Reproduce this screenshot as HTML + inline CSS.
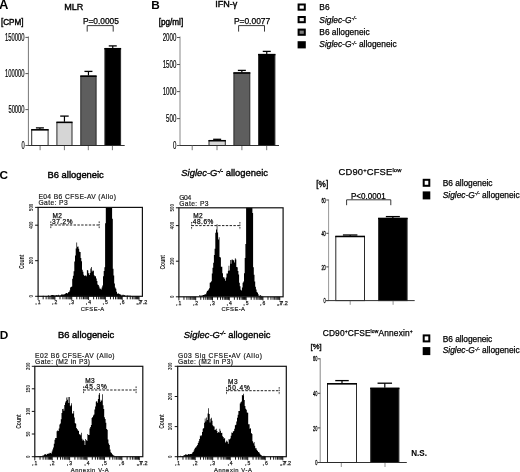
<!DOCTYPE html>
<html><head><meta charset="utf-8"><title>Figure</title>
<style>html,body{margin:0;padding:0;background:#fff}svg{display:block}text{font-family:'Liberation Sans', Arial, Helvetica, sans-serif}</style>
</head><body>
<svg width="520" height="472" viewBox="0 0 520 472">
<rect width="520" height="472" fill="#fff"/>
<text x="-1.1" y="8.6" font-size="13" text-anchor="start" font-weight="bold" >A</text>
<text x="64.2" y="9.5" font-size="9" text-anchor="start" textLength="19.2" lengthAdjust="spacingAndGlyphs" stroke="#000" stroke-width="0.35" >MLR</text>
<text x="1" y="25.2" font-size="8.4" text-anchor="start" textLength="22.5" lengthAdjust="spacingAndGlyphs" stroke="#000" stroke-width="0.4" >[CPM]</text>
<text x="82.9" y="23.8" font-size="8.4" text-anchor="start" textLength="36" lengthAdjust="spacingAndGlyphs" stroke="#000" stroke-width="0.25" >P=0.0005</text>
<path d="M87.2 31.6V25.6H113.2V31.6" fill="none" stroke="#222" stroke-width="0.9"/>
<line x1="28.4" y1="36.5" x2="28.4" y2="146" stroke="#777" stroke-width="1" />
<line x1="26" y1="145.5" x2="124.7" y2="145.5" stroke="#333" stroke-width="1" />
<line x1="25.4" y1="37.4" x2="28.4" y2="37.4" stroke="#555" stroke-width="1" />
<text x="24.6" y="40.9" font-size="10" text-anchor="end" textLength="19.5" lengthAdjust="spacingAndGlyphs" stroke="#000" stroke-width="0.2" >150000</text>
<line x1="25.4" y1="73.60000000000001" x2="28.4" y2="73.60000000000001" stroke="#555" stroke-width="1" />
<text x="24.6" y="77.10000000000001" font-size="10" text-anchor="end" textLength="19.5" lengthAdjust="spacingAndGlyphs" stroke="#000" stroke-width="0.2" >100000</text>
<line x1="25.4" y1="109.60000000000001" x2="28.4" y2="109.60000000000001" stroke="#555" stroke-width="1" />
<text x="24.6" y="113.10000000000001" font-size="10" text-anchor="end" textLength="16.2" lengthAdjust="spacingAndGlyphs" stroke="#000" stroke-width="0.2" >50000</text>
<line x1="25.4" y1="145.5" x2="28.4" y2="145.5" stroke="#555" stroke-width="1" />
<text x="24.6" y="149.0" font-size="10" text-anchor="end" textLength="3.2" lengthAdjust="spacingAndGlyphs" stroke="#000" stroke-width="0.2" >0</text>
<line x1="40.1" y1="145.5" x2="40.1" y2="150.2" stroke="#777" stroke-width="1" />
<line x1="64.4" y1="145.5" x2="64.4" y2="150.2" stroke="#777" stroke-width="1" />
<line x1="88.3" y1="145.5" x2="88.3" y2="150.2" stroke="#777" stroke-width="1" />
<line x1="112.4" y1="145.5" x2="112.4" y2="150.2" stroke="#777" stroke-width="1" />
<line x1="39.9" y1="129.2" x2="39.9" y2="127.9" stroke="#000" stroke-width="1.2" />
<line x1="35.9" y1="127.9" x2="43.9" y2="127.9" stroke="#000" stroke-width="1.3" />
<rect x="31.7" y="129.7" width="16.400000000000002" height="15.800000000000011" fill="#fff" stroke="#2a2a2a" stroke-width="1"/>
<line x1="31.2" y1="129.79999999999998" x2="48.6" y2="129.79999999999998" stroke="#000" stroke-width="1.5" />
<line x1="64.45" y1="121.8" x2="64.45" y2="116.1" stroke="#000" stroke-width="1.2" />
<line x1="60.2" y1="116.1" x2="68.7" y2="116.1" stroke="#000" stroke-width="1.3" />
<rect x="56.9" y="122.3" width="15.100000000000001" height="23.200000000000003" fill="#d6d6d6" stroke="#2a2a2a" stroke-width="1"/>
<line x1="56.4" y1="122.39999999999999" x2="72.5" y2="122.39999999999999" stroke="#000" stroke-width="1.5" />
<line x1="88.44999999999999" y1="75.6" x2="88.44999999999999" y2="71.4" stroke="#000" stroke-width="1.2" />
<line x1="84.44999999999999" y1="71.4" x2="92.44999999999999" y2="71.4" stroke="#000" stroke-width="1.3" />
<rect x="80.8" y="76.1" width="15.299999999999997" height="69.4" fill="#5e5e5e" stroke="#2a2a2a" stroke-width="1"/>
<line x1="80.3" y1="76.19999999999999" x2="96.6" y2="76.19999999999999" stroke="#000" stroke-width="1.5" />
<line x1="112.75" y1="48.1" x2="112.75" y2="45.9" stroke="#000" stroke-width="1.2" />
<line x1="108.75" y1="45.9" x2="116.75" y2="45.9" stroke="#000" stroke-width="1.3" />
<rect x="104.9" y="48.6" width="15.699999999999989" height="96.9" fill="#000" stroke="#2a2a2a" stroke-width="1"/>
<line x1="104.4" y1="48.7" x2="121.1" y2="48.7" stroke="#000" stroke-width="1.5" />
<text x="151.3" y="8.9" font-size="11.8" text-anchor="start" font-weight="bold" >B</text>
<text x="215.2" y="6.7" font-size="9" text-anchor="start" textLength="22.1" lengthAdjust="spacingAndGlyphs" stroke="#000" stroke-width="0.4" >IFN-γ</text>
<text x="158.7" y="25" font-size="8.4" text-anchor="start" textLength="24.5" lengthAdjust="spacingAndGlyphs" stroke="#000" stroke-width="0.4" >[pg/ml]</text>
<text x="233.9" y="23.8" font-size="8.4" text-anchor="start" textLength="36.3" lengthAdjust="spacingAndGlyphs" stroke="#000" stroke-width="0.25" >P=0.0077</text>
<path d="M238.6 31.6V25.6H264.5V31.6" fill="none" stroke="#222" stroke-width="0.9"/>
<line x1="180" y1="36.5" x2="180" y2="146" stroke="#888" stroke-width="1" />
<line x1="177.5" y1="145.5" x2="279" y2="145.5" stroke="#333" stroke-width="1" />
<line x1="177" y1="37.5" x2="180" y2="37.5" stroke="#555" stroke-width="1" />
<text x="176.3" y="41.0" font-size="10" text-anchor="end" textLength="13.6" lengthAdjust="spacingAndGlyphs" stroke="#000" stroke-width="0.2" >2000</text>
<line x1="177" y1="64.5" x2="180" y2="64.5" stroke="#555" stroke-width="1" />
<text x="176.3" y="68.0" font-size="10" text-anchor="end" textLength="13.6" lengthAdjust="spacingAndGlyphs" stroke="#000" stroke-width="0.2" >1500</text>
<line x1="177" y1="91.60000000000001" x2="180" y2="91.60000000000001" stroke="#555" stroke-width="1" />
<text x="176.3" y="95.10000000000001" font-size="10" text-anchor="end" textLength="13.6" lengthAdjust="spacingAndGlyphs" stroke="#000" stroke-width="0.2" >1000</text>
<line x1="177" y1="118.60000000000001" x2="180" y2="118.60000000000001" stroke="#555" stroke-width="1" />
<text x="176.3" y="122.10000000000001" font-size="10" text-anchor="end" textLength="10.2" lengthAdjust="spacingAndGlyphs" stroke="#000" stroke-width="0.2" >500</text>
<line x1="177" y1="145.5" x2="180" y2="145.5" stroke="#555" stroke-width="1" />
<text x="176.3" y="149.0" font-size="10" text-anchor="end" textLength="3.4" lengthAdjust="spacingAndGlyphs" stroke="#000" stroke-width="0.2" >0</text>
<line x1="192.2" y1="145.5" x2="192.2" y2="150.2" stroke="#777" stroke-width="1" />
<line x1="217" y1="145.5" x2="217" y2="150.2" stroke="#777" stroke-width="1" />
<line x1="241.9" y1="145.5" x2="241.9" y2="150.2" stroke="#777" stroke-width="1" />
<line x1="266.7" y1="145.5" x2="266.7" y2="150.2" stroke="#777" stroke-width="1" />
<line x1="217.15" y1="140.1" x2="217.15" y2="139.3" stroke="#000" stroke-width="1.2" />
<line x1="213.15" y1="139.3" x2="221.15" y2="139.3" stroke="#000" stroke-width="1.3" />
<rect x="209.0" y="140.6" width="16.30000000000001" height="4.900000000000006" fill="#d6d6d6" stroke="#2a2a2a" stroke-width="1"/>
<line x1="208.5" y1="140.7" x2="225.8" y2="140.7" stroke="#000" stroke-width="1.5" />
<line x1="241.85000000000002" y1="72.4" x2="241.85000000000002" y2="70.4" stroke="#000" stroke-width="1.2" />
<line x1="237.85000000000002" y1="70.4" x2="245.85000000000002" y2="70.4" stroke="#000" stroke-width="1.3" />
<rect x="233.9" y="72.9" width="15.900000000000006" height="72.6" fill="#5e5e5e" stroke="#2a2a2a" stroke-width="1"/>
<line x1="233.4" y1="73.0" x2="250.3" y2="73.0" stroke="#000" stroke-width="1.5" />
<line x1="266.75" y1="54" x2="266.75" y2="51.4" stroke="#000" stroke-width="1.2" />
<line x1="262.75" y1="51.4" x2="270.75" y2="51.4" stroke="#000" stroke-width="1.3" />
<rect x="258.6" y="54.5" width="16.299999999999955" height="91.0" fill="#000" stroke="#2a2a2a" stroke-width="1"/>
<line x1="258.1" y1="54.6" x2="275.4" y2="54.6" stroke="#000" stroke-width="1.5" />
<rect x="298.6" y="4.5" width="6.2" height="5.2" fill="#fff" stroke="#000" stroke-width="2"/>
<rect x="298.6" y="17" width="6.2" height="5.2" fill="#e9e9e9" stroke="#000" stroke-width="2"/>
<rect x="298.6" y="29.6" width="6.2" height="5.2" fill="#7c7c7c" stroke="#000" stroke-width="2"/>
<rect x="298.6" y="42.2" width="6.2" height="5.2" fill="#000" stroke="#000" stroke-width="2"/>
<text x="319.3" y="9.7" font-size="8.4" text-anchor="start" stroke="#000" stroke-width="0.25" >B6</text>
<text x="319.3" y="22.6" font-size="8.4" text-anchor="start" stroke="#000" stroke-width="0.25" ><tspan font-style="italic">Siglec-G</tspan><tspan font-size="5.5" dy="-2.6" font-style="italic">-/-</tspan></text>
<text x="319.3" y="35.1" font-size="8.4" text-anchor="start" textLength="50.3" lengthAdjust="spacing" stroke="#000" stroke-width="0.25" >B6 allogeneic</text>
<text x="319.3" y="47.3" font-size="8.4" text-anchor="start" textLength="77.3" lengthAdjust="spacing" stroke="#000" stroke-width="0.25" ><tspan font-style="italic">Siglec-G</tspan><tspan font-size="5.5" dy="-2.6" font-style="italic">-/-</tspan><tspan dy="2.6"> allogeneic</tspan></text>
<text x="-0.5" y="179" font-size="11.8" text-anchor="start" font-weight="bold" >C</text>
<text x="47.5" y="177.8" font-size="9.4" text-anchor="start" textLength="56.3" lengthAdjust="spacing" stroke="#000" stroke-width="0.4" >B6 allogeneic</text>
<text x="181.3" y="175.8" font-size="9.4" text-anchor="start" textLength="86.7" lengthAdjust="spacing" stroke="#000" stroke-width="0.35" ><tspan font-style="italic">Siglec-G</tspan><tspan font-size="6" dy="-3" font-style="italic">-/-</tspan><tspan dy="3"> allogeneic</tspan></text>
<clipPath id="cC1"><rect x="38.1" y="207.4" width="104.30000000000001" height="88.9"/></clipPath>
<path d="M40 296.3V296.2h0.7V296.3h0.7V296.1h0.7V296.1h0.7V295.8h0.7V296.0h0.7V296.3h0.7V296.1h0.7V296.2h0.7V295.9h0.7V295.9h0.7V295.8h0.7V295.2h0.7V295.9h0.7V295.8h0.7V295.7h0.7V295.0h0.7V294.9h0.7V295.1h0.7V295.2h0.7V295.4h0.7V295.3h0.7V295.4h0.7V295.0h0.7V295.3h0.7V295.2h0.7V294.8h0.7V295.6h0.7V295.2h0.7V295.3h0.7V294.6h0.7V294.6h0.7V294.5h0.7V294.4h0.7V294.4h0.7V294.0h0.7V293.5h0.7V293.0h0.7V292.9h0.7V293.5h0.7V292.3h0.7V292.1h0.7V290.6h0.7V287.5h0.7V286.9h0.7V286.4h0.7V278.8h0.7V275.8h0.7V271.2h0.7V261.5h0.7V255.4h0.7V248.6h0.7V242.6h0.7V246.8h0.7V246.4h0.7V248.8h0.7V251.8h0.7V251.9h0.7V258.1h0.7V261.3h0.7V269.7h0.7V271.7h0.7V274.8h0.7V275.7h0.7V276.1h0.7V275.0h0.7V276.3h0.7V270.0h0.7V270.6h0.7V273.2h0.7V275.0h0.7V273.1h0.7V268.4h0.7V266.9h0.7V271.6h0.7V270.6h0.7V270.8h0.7V275.2h0.7V276.3h0.7V276.2h0.7V278.6h0.7V281.1h0.7V284.4h0.7V285.0h0.7V286.6h0.7V288.4h0.7V288.7h0.7V289.4h0.7V287.5h0.7V285.5h0.7V276.3h0.7V271.1h0.7V267.3h0.7V223.3h0.7V199.5h0.7V202.8h0.7V196.4h0.7V204.4h0.7V201.5h0.7V199.6h0.7V200.9h0.7V201.8h0.7V200.3h0.7V218.7h0.7V268.8h0.7V275.6h0.7V283.6h0.7V287.4h0.7V288.7h0.7V291.7h0.7V293.7h0.7V293.5h0.7V293.4h0.7V294.1h0.7V294.4h0.7V294.6h0.7V295.4h0.7V294.7h0.7V295.5h0.7V294.7h0.7V295.0h0.7V295.5h0.7V295.7h0.7V295.7h0.7V295.6h0.7V295.6h0.7V295.7h0.7V295.8h0.7V295.7h0.7V295.8h0.7V296.0h0.7V295.9h0.7V296.1h0.7V296.1h0.7V296.3h0.7V296.1h0.7V296.0h0.7V296.0h0.7V296.2h0.7V296.3h0.7V296.3Z" fill="#000" clip-path="url(#cC1)"/>
<rect x="38.1" y="207.4" width="104.30000000000001" height="88.9" fill="none" stroke="#111" stroke-width="1.2"/>
<text x="38.4" y="199.1" font-size="6.7" text-anchor="start" textLength="77.5" lengthAdjust="spacing" fill="#222" stroke="#222" stroke-width="0.2" >E04 B6 CFSE-AV (Allo)</text>
<text x="38.4" y="205.4" font-size="6.7" text-anchor="start" textLength="29.3" lengthAdjust="spacing" fill="#222" stroke="#222" stroke-width="0.2" >Gate: P3</text>
<line x1="35.1" y1="207.4" x2="38.1" y2="207.4" stroke="#111" stroke-width="1" />
<text transform="translate(32.800000000000004,207.4) rotate(-90)" font-size="5.8" text-anchor="middle" textLength="7.3500000000000005" lengthAdjust="spacingAndGlyphs" font-weight="bold" fill="#222">500</text>
<line x1="35.1" y1="225.2" x2="38.1" y2="225.2" stroke="#111" stroke-width="1" />
<text transform="translate(32.800000000000004,225.2) rotate(-90)" font-size="5.8" text-anchor="middle" textLength="7.3500000000000005" lengthAdjust="spacingAndGlyphs" font-weight="bold" fill="#222">400</text>
<line x1="35.1" y1="260.7" x2="38.1" y2="260.7" stroke="#111" stroke-width="1" />
<text transform="translate(32.800000000000004,260.7) rotate(-90)" font-size="5.8" text-anchor="middle" textLength="7.3500000000000005" lengthAdjust="spacingAndGlyphs" font-weight="bold" fill="#222">200</text>
<line x1="35.1" y1="296.3" x2="38.1" y2="296.3" stroke="#111" stroke-width="1" />
<text transform="translate(32.800000000000004,296.3) rotate(-90)" font-size="5.8" text-anchor="middle" textLength="2.45" lengthAdjust="spacingAndGlyphs" font-weight="bold" fill="#222">0</text>
<text transform="translate(24.1,261.85) rotate(-90)" font-size="6.4" text-anchor="middle" textLength="14.5" lengthAdjust="spacingAndGlyphs" font-weight="bold" fill="#222">Count</text>
<line x1="38.1" y1="296.3" x2="38.1" y2="299.90000000000003" stroke="#000" stroke-width="0.9" />
<line x1="43.16" y1="296.3" x2="43.16" y2="299.3" stroke="#000" stroke-width="0.9" />
<line x1="46.13" y1="296.3" x2="46.13" y2="299.3" stroke="#000" stroke-width="0.9" />
<line x1="48.23" y1="296.3" x2="48.23" y2="299.3" stroke="#000" stroke-width="0.9" />
<line x1="49.86" y1="296.3" x2="49.86" y2="299.3" stroke="#000" stroke-width="0.9" />
<line x1="51.19" y1="296.3" x2="51.19" y2="299.3" stroke="#000" stroke-width="0.9" />
<line x1="52.32" y1="296.3" x2="52.32" y2="299.3" stroke="#000" stroke-width="0.9" />
<line x1="53.29" y1="296.3" x2="53.29" y2="299.3" stroke="#000" stroke-width="0.9" />
<line x1="54.15" y1="296.3" x2="54.15" y2="299.3" stroke="#000" stroke-width="0.9" />
<text x="39.1" y="304.1" font-size="5.8" text-anchor="middle" textLength="2.8" lengthAdjust="spacingAndGlyphs" fill="#222" stroke="#222" stroke-width="0.25" >1</text>
<text x="36.1" y="304.3" font-size="5.8" text-anchor="middle" fill="#222" stroke="#222" stroke-width="0.25" >,</text>
<line x1="54.92" y1="296.3" x2="54.92" y2="299.90000000000003" stroke="#000" stroke-width="0.9" />
<line x1="59.99" y1="296.3" x2="59.99" y2="299.3" stroke="#000" stroke-width="0.9" />
<line x1="62.95" y1="296.3" x2="62.95" y2="299.3" stroke="#000" stroke-width="0.9" />
<line x1="65.05" y1="296.3" x2="65.05" y2="299.3" stroke="#000" stroke-width="0.9" />
<line x1="66.68" y1="296.3" x2="66.68" y2="299.3" stroke="#000" stroke-width="0.9" />
<line x1="68.01" y1="296.3" x2="68.01" y2="299.3" stroke="#000" stroke-width="0.9" />
<line x1="69.14" y1="296.3" x2="69.14" y2="299.3" stroke="#000" stroke-width="0.9" />
<line x1="70.11" y1="296.3" x2="70.11" y2="299.3" stroke="#000" stroke-width="0.9" />
<line x1="70.98" y1="296.3" x2="70.98" y2="299.3" stroke="#000" stroke-width="0.9" />
<text x="55.9" y="304.1" font-size="5.8" text-anchor="middle" textLength="2.8" lengthAdjust="spacingAndGlyphs" fill="#222" stroke="#222" stroke-width="0.25" >2</text>
<text x="52.9" y="304.3" font-size="5.8" text-anchor="middle" fill="#222" stroke="#222" stroke-width="0.25" >,</text>
<line x1="71.75" y1="296.3" x2="71.75" y2="299.90000000000003" stroke="#000" stroke-width="0.9" />
<line x1="76.81" y1="296.3" x2="76.81" y2="299.3" stroke="#000" stroke-width="0.9" />
<line x1="79.77" y1="296.3" x2="79.77" y2="299.3" stroke="#000" stroke-width="0.9" />
<line x1="81.87" y1="296.3" x2="81.87" y2="299.3" stroke="#000" stroke-width="0.9" />
<line x1="83.5" y1="296.3" x2="83.5" y2="299.3" stroke="#000" stroke-width="0.9" />
<line x1="84.84" y1="296.3" x2="84.84" y2="299.3" stroke="#000" stroke-width="0.9" />
<line x1="85.96" y1="296.3" x2="85.96" y2="299.3" stroke="#000" stroke-width="0.9" />
<line x1="86.94" y1="296.3" x2="86.94" y2="299.3" stroke="#000" stroke-width="0.9" />
<line x1="87.8" y1="296.3" x2="87.8" y2="299.3" stroke="#000" stroke-width="0.9" />
<text x="72.7" y="304.1" font-size="5.8" text-anchor="middle" textLength="2.8" lengthAdjust="spacingAndGlyphs" fill="#222" stroke="#222" stroke-width="0.25" >3</text>
<text x="69.7" y="304.3" font-size="5.8" text-anchor="middle" fill="#222" stroke="#222" stroke-width="0.25" >,</text>
<line x1="88.57" y1="296.3" x2="88.57" y2="299.90000000000003" stroke="#000" stroke-width="0.9" />
<line x1="93.63" y1="296.3" x2="93.63" y2="299.3" stroke="#000" stroke-width="0.9" />
<line x1="96.59" y1="296.3" x2="96.59" y2="299.3" stroke="#000" stroke-width="0.9" />
<line x1="98.7" y1="296.3" x2="98.7" y2="299.3" stroke="#000" stroke-width="0.9" />
<line x1="100.33" y1="296.3" x2="100.33" y2="299.3" stroke="#000" stroke-width="0.9" />
<line x1="101.66" y1="296.3" x2="101.66" y2="299.3" stroke="#000" stroke-width="0.9" />
<line x1="102.78" y1="296.3" x2="102.78" y2="299.3" stroke="#000" stroke-width="0.9" />
<line x1="103.76" y1="296.3" x2="103.76" y2="299.3" stroke="#000" stroke-width="0.9" />
<line x1="104.62" y1="296.3" x2="104.62" y2="299.3" stroke="#000" stroke-width="0.9" />
<text x="89.6" y="304.1" font-size="5.8" text-anchor="middle" textLength="2.8" lengthAdjust="spacingAndGlyphs" fill="#222" stroke="#222" stroke-width="0.25" >4</text>
<text x="86.6" y="304.3" font-size="5.8" text-anchor="middle" fill="#222" stroke="#222" stroke-width="0.25" >,</text>
<line x1="105.39" y1="296.3" x2="105.39" y2="299.90000000000003" stroke="#000" stroke-width="0.9" />
<line x1="110.45" y1="296.3" x2="110.45" y2="299.3" stroke="#000" stroke-width="0.9" />
<line x1="113.42" y1="296.3" x2="113.42" y2="299.3" stroke="#000" stroke-width="0.9" />
<line x1="115.52" y1="296.3" x2="115.52" y2="299.3" stroke="#000" stroke-width="0.9" />
<line x1="117.15" y1="296.3" x2="117.15" y2="299.3" stroke="#000" stroke-width="0.9" />
<line x1="118.48" y1="296.3" x2="118.48" y2="299.3" stroke="#000" stroke-width="0.9" />
<line x1="119.61" y1="296.3" x2="119.61" y2="299.3" stroke="#000" stroke-width="0.9" />
<line x1="120.58" y1="296.3" x2="120.58" y2="299.3" stroke="#000" stroke-width="0.9" />
<line x1="121.44" y1="296.3" x2="121.44" y2="299.3" stroke="#000" stroke-width="0.9" />
<text x="106.4" y="304.1" font-size="5.8" text-anchor="middle" textLength="2.8" lengthAdjust="spacingAndGlyphs" fill="#222" stroke="#222" stroke-width="0.25" >5</text>
<text x="103.4" y="304.3" font-size="5.8" text-anchor="middle" fill="#222" stroke="#222" stroke-width="0.25" >,</text>
<line x1="122.21" y1="296.3" x2="122.21" y2="299.90000000000003" stroke="#000" stroke-width="0.9" />
<line x1="127.28" y1="296.3" x2="127.28" y2="299.3" stroke="#000" stroke-width="0.9" />
<line x1="130.24" y1="296.3" x2="130.24" y2="299.3" stroke="#000" stroke-width="0.9" />
<line x1="132.34" y1="296.3" x2="132.34" y2="299.3" stroke="#000" stroke-width="0.9" />
<line x1="133.97" y1="296.3" x2="133.97" y2="299.3" stroke="#000" stroke-width="0.9" />
<line x1="135.3" y1="296.3" x2="135.3" y2="299.3" stroke="#000" stroke-width="0.9" />
<line x1="136.43" y1="296.3" x2="136.43" y2="299.3" stroke="#000" stroke-width="0.9" />
<line x1="137.41" y1="296.3" x2="137.41" y2="299.3" stroke="#000" stroke-width="0.9" />
<line x1="138.27" y1="296.3" x2="138.27" y2="299.3" stroke="#000" stroke-width="0.9" />
<text x="123.2" y="304.1" font-size="5.8" text-anchor="middle" textLength="2.8" lengthAdjust="spacingAndGlyphs" fill="#222" stroke="#222" stroke-width="0.25" >6</text>
<text x="120.2" y="304.3" font-size="5.8" text-anchor="middle" fill="#222" stroke="#222" stroke-width="0.25" >,</text>
<line x1="139.04" y1="296.3" x2="139.04" y2="299.90000000000003" stroke="#000" stroke-width="0.9" />
<text x="140.0" y="304.1" font-size="5.8" text-anchor="middle" textLength="2.8" lengthAdjust="spacingAndGlyphs" fill="#222" stroke="#222" stroke-width="0.25" >7</text>
<text x="137.0" y="304.3" font-size="5.8" text-anchor="middle" fill="#222" stroke="#222" stroke-width="0.25" >,</text>
<text x="143.4" y="304.1" font-size="5.8" text-anchor="middle" textLength="7.6" lengthAdjust="spacingAndGlyphs" fill="#222" stroke="#222" stroke-width="0.25" >7.2</text>
<text x="138.0" y="304.3" font-size="5.8" text-anchor="middle" fill="#222" stroke="#222" stroke-width="0.25" >,</text>
<text x="92.45" y="310.5" font-size="5.8" text-anchor="middle" textLength="23.5" lengthAdjust="spacing" fill="#222" stroke="#222" stroke-width="0.2" >CFSE-A</text>
<line x1="50.8" y1="225" x2="99.2" y2="225" stroke="#222" stroke-width="1" stroke-dasharray="2.4 1.4"/>
<line x1="50.8" y1="221.4" x2="50.8" y2="229" stroke="#222" stroke-width="0.9" stroke-dasharray="1.6 0.9"/>
<line x1="99.2" y1="221.4" x2="99.2" y2="229" stroke="#222" stroke-width="0.9" stroke-dasharray="1.6 0.9"/>
<text x="52.4" y="217.8" font-size="6.5" text-anchor="start" textLength="9.5" lengthAdjust="spacing" fill="#111" stroke="#111" stroke-width="0.25" >M2</text>
<text x="52.0" y="223.6" font-size="6.5" text-anchor="start" textLength="20.5" lengthAdjust="spacing" fill="#111" stroke="#111" stroke-width="0.25" >37.2%</text>
<clipPath id="cC2"><rect x="178.9" y="207.8" width="104.20000000000002" height="89.0"/></clipPath>
<path d="M197.1 296.8V296.7h0.7V296.7h0.7V296.8h0.7V295.3h0.7V295.6h0.7V295.8h0.7V295.6h0.7V295.4h0.7V294.9h0.7V295.1h0.7V294.7h0.7V293.9h0.7V294.4h0.7V292.5h0.7V291.1h0.7V290.5h0.7V289.5h0.7V288.2h0.7V282.8h0.7V282.2h0.7V281.3h0.7V273.4h0.7V267.7h0.7V262.7h0.7V254.9h0.7V248.8h0.7V232.7h0.7V229.4h0.7V224.3h0.7V232.6h0.7V239.5h0.7V237.3h0.7V257.0h0.7V257.6h0.7V266.8h0.7V266.7h0.7V273.3h0.7V277.2h0.7V277.2h0.7V278.8h0.7V280.7h0.7V277.5h0.7V273.5h0.7V273.6h0.7V270.7h0.7V265.8h0.7V270.4h0.7V260.1h0.7V263.8h0.7V259.8h0.7V259.6h0.7V260.3h0.7V260.2h0.7V262.4h0.7V258.3h0.7V259.6h0.7V266.9h0.7V267.3h0.7V270.9h0.7V274.6h0.7V282.7h0.7V286.3h0.7V289.7h0.7V290.4h0.7V287.5h0.7V282.8h0.7V281.5h0.7V273.3h0.7V258.0h0.7V244.0h0.7V202.7h0.7V199.5h0.7V194.6h0.7V203.9h0.7V199.7h0.7V198.3h0.7V201.1h0.7V201.1h0.7V204.1h0.7V213.1h0.7V267.2h0.7V274.7h0.7V281.4h0.7V286.7h0.7V289.5h0.7V292.0h0.7V292.8h0.7V294.2h0.7V295.9h0.7V295.5h0.7V295.1h0.7V296.0h0.7V295.8h0.7V296.8h0.7V296.8Z" fill="#000" clip-path="url(#cC2)"/>
<rect x="178.9" y="207.8" width="104.20000000000002" height="89.0" fill="none" stroke="#111" stroke-width="1.2"/>
<text x="179.20000000000002" y="199.5" font-size="6.7" text-anchor="start" textLength="12" lengthAdjust="spacing" fill="#222" stroke="#222" stroke-width="0.2" >G04</text>
<text x="179.20000000000002" y="205.8" font-size="6.7" text-anchor="start" textLength="29.3" lengthAdjust="spacing" fill="#222" stroke="#222" stroke-width="0.2" >Gate: P3</text>
<line x1="175.9" y1="207.8" x2="178.9" y2="207.8" stroke="#111" stroke-width="1" />
<text transform="translate(173.6,207.8) rotate(-90)" font-size="5.8" text-anchor="middle" textLength="7.3500000000000005" lengthAdjust="spacingAndGlyphs" font-weight="bold" fill="#222">500</text>
<line x1="175.9" y1="225.6" x2="178.9" y2="225.6" stroke="#111" stroke-width="1" />
<text transform="translate(173.6,225.6) rotate(-90)" font-size="5.8" text-anchor="middle" textLength="7.3500000000000005" lengthAdjust="spacingAndGlyphs" font-weight="bold" fill="#222">400</text>
<line x1="175.9" y1="261.2" x2="178.9" y2="261.2" stroke="#111" stroke-width="1" />
<text transform="translate(173.6,261.2) rotate(-90)" font-size="5.8" text-anchor="middle" textLength="7.3500000000000005" lengthAdjust="spacingAndGlyphs" font-weight="bold" fill="#222">200</text>
<line x1="175.9" y1="296.8" x2="178.9" y2="296.8" stroke="#111" stroke-width="1" />
<text transform="translate(173.6,296.8) rotate(-90)" font-size="5.8" text-anchor="middle" textLength="2.45" lengthAdjust="spacingAndGlyphs" font-weight="bold" fill="#222">0</text>
<text transform="translate(164.9,262.3) rotate(-90)" font-size="6.4" text-anchor="middle" textLength="14.5" lengthAdjust="spacingAndGlyphs" font-weight="bold" fill="#222">Count</text>
<line x1="178.9" y1="296.8" x2="178.9" y2="300.40000000000003" stroke="#000" stroke-width="0.9" />
<line x1="183.96" y1="296.8" x2="183.96" y2="299.8" stroke="#000" stroke-width="0.9" />
<line x1="186.92" y1="296.8" x2="186.92" y2="299.8" stroke="#000" stroke-width="0.9" />
<line x1="189.02" y1="296.8" x2="189.02" y2="299.8" stroke="#000" stroke-width="0.9" />
<line x1="190.65" y1="296.8" x2="190.65" y2="299.8" stroke="#000" stroke-width="0.9" />
<line x1="191.98" y1="296.8" x2="191.98" y2="299.8" stroke="#000" stroke-width="0.9" />
<line x1="193.1" y1="296.8" x2="193.1" y2="299.8" stroke="#000" stroke-width="0.9" />
<line x1="194.08" y1="296.8" x2="194.08" y2="299.8" stroke="#000" stroke-width="0.9" />
<line x1="194.94" y1="296.8" x2="194.94" y2="299.8" stroke="#000" stroke-width="0.9" />
<text x="179.9" y="304.6" font-size="5.8" text-anchor="middle" textLength="2.8" lengthAdjust="spacingAndGlyphs" fill="#222" stroke="#222" stroke-width="0.25" >1</text>
<text x="176.9" y="304.8" font-size="5.8" text-anchor="middle" fill="#222" stroke="#222" stroke-width="0.25" >,</text>
<line x1="195.71" y1="296.8" x2="195.71" y2="300.40000000000003" stroke="#000" stroke-width="0.9" />
<line x1="200.77" y1="296.8" x2="200.77" y2="299.8" stroke="#000" stroke-width="0.9" />
<line x1="203.73" y1="296.8" x2="203.73" y2="299.8" stroke="#000" stroke-width="0.9" />
<line x1="205.82" y1="296.8" x2="205.82" y2="299.8" stroke="#000" stroke-width="0.9" />
<line x1="207.45" y1="296.8" x2="207.45" y2="299.8" stroke="#000" stroke-width="0.9" />
<line x1="208.78" y1="296.8" x2="208.78" y2="299.8" stroke="#000" stroke-width="0.9" />
<line x1="209.91" y1="296.8" x2="209.91" y2="299.8" stroke="#000" stroke-width="0.9" />
<line x1="210.88" y1="296.8" x2="210.88" y2="299.8" stroke="#000" stroke-width="0.9" />
<line x1="211.74" y1="296.8" x2="211.74" y2="299.8" stroke="#000" stroke-width="0.9" />
<text x="196.7" y="304.6" font-size="5.8" text-anchor="middle" textLength="2.8" lengthAdjust="spacingAndGlyphs" fill="#222" stroke="#222" stroke-width="0.25" >2</text>
<text x="193.7" y="304.8" font-size="5.8" text-anchor="middle" fill="#222" stroke="#222" stroke-width="0.25" >,</text>
<line x1="212.51" y1="296.8" x2="212.51" y2="300.40000000000003" stroke="#000" stroke-width="0.9" />
<line x1="217.57" y1="296.8" x2="217.57" y2="299.8" stroke="#000" stroke-width="0.9" />
<line x1="220.53" y1="296.8" x2="220.53" y2="299.8" stroke="#000" stroke-width="0.9" />
<line x1="222.63" y1="296.8" x2="222.63" y2="299.8" stroke="#000" stroke-width="0.9" />
<line x1="224.26" y1="296.8" x2="224.26" y2="299.8" stroke="#000" stroke-width="0.9" />
<line x1="225.59" y1="296.8" x2="225.59" y2="299.8" stroke="#000" stroke-width="0.9" />
<line x1="226.72" y1="296.8" x2="226.72" y2="299.8" stroke="#000" stroke-width="0.9" />
<line x1="227.69" y1="296.8" x2="227.69" y2="299.8" stroke="#000" stroke-width="0.9" />
<line x1="228.55" y1="296.8" x2="228.55" y2="299.8" stroke="#000" stroke-width="0.9" />
<text x="213.5" y="304.6" font-size="5.8" text-anchor="middle" textLength="2.8" lengthAdjust="spacingAndGlyphs" fill="#222" stroke="#222" stroke-width="0.25" >3</text>
<text x="210.5" y="304.8" font-size="5.8" text-anchor="middle" fill="#222" stroke="#222" stroke-width="0.25" >,</text>
<line x1="229.32" y1="296.8" x2="229.32" y2="300.40000000000003" stroke="#000" stroke-width="0.9" />
<line x1="234.38" y1="296.8" x2="234.38" y2="299.8" stroke="#000" stroke-width="0.9" />
<line x1="237.34" y1="296.8" x2="237.34" y2="299.8" stroke="#000" stroke-width="0.9" />
<line x1="239.44" y1="296.8" x2="239.44" y2="299.8" stroke="#000" stroke-width="0.9" />
<line x1="241.07" y1="296.8" x2="241.07" y2="299.8" stroke="#000" stroke-width="0.9" />
<line x1="242.4" y1="296.8" x2="242.4" y2="299.8" stroke="#000" stroke-width="0.9" />
<line x1="243.52" y1="296.8" x2="243.52" y2="299.8" stroke="#000" stroke-width="0.9" />
<line x1="244.5" y1="296.8" x2="244.5" y2="299.8" stroke="#000" stroke-width="0.9" />
<line x1="245.36" y1="296.8" x2="245.36" y2="299.8" stroke="#000" stroke-width="0.9" />
<text x="230.3" y="304.6" font-size="5.8" text-anchor="middle" textLength="2.8" lengthAdjust="spacingAndGlyphs" fill="#222" stroke="#222" stroke-width="0.25" >4</text>
<text x="227.3" y="304.8" font-size="5.8" text-anchor="middle" fill="#222" stroke="#222" stroke-width="0.25" >,</text>
<line x1="246.13" y1="296.8" x2="246.13" y2="300.40000000000003" stroke="#000" stroke-width="0.9" />
<line x1="251.19" y1="296.8" x2="251.19" y2="299.8" stroke="#000" stroke-width="0.9" />
<line x1="254.14" y1="296.8" x2="254.14" y2="299.8" stroke="#000" stroke-width="0.9" />
<line x1="256.24" y1="296.8" x2="256.24" y2="299.8" stroke="#000" stroke-width="0.9" />
<line x1="257.87" y1="296.8" x2="257.87" y2="299.8" stroke="#000" stroke-width="0.9" />
<line x1="259.2" y1="296.8" x2="259.2" y2="299.8" stroke="#000" stroke-width="0.9" />
<line x1="260.33" y1="296.8" x2="260.33" y2="299.8" stroke="#000" stroke-width="0.9" />
<line x1="261.3" y1="296.8" x2="261.3" y2="299.8" stroke="#000" stroke-width="0.9" />
<line x1="262.16" y1="296.8" x2="262.16" y2="299.8" stroke="#000" stroke-width="0.9" />
<text x="247.1" y="304.6" font-size="5.8" text-anchor="middle" textLength="2.8" lengthAdjust="spacingAndGlyphs" fill="#222" stroke="#222" stroke-width="0.25" >5</text>
<text x="244.1" y="304.8" font-size="5.8" text-anchor="middle" fill="#222" stroke="#222" stroke-width="0.25" >,</text>
<line x1="262.93" y1="296.8" x2="262.93" y2="300.40000000000003" stroke="#000" stroke-width="0.9" />
<line x1="267.99" y1="296.8" x2="267.99" y2="299.8" stroke="#000" stroke-width="0.9" />
<line x1="270.95" y1="296.8" x2="270.95" y2="299.8" stroke="#000" stroke-width="0.9" />
<line x1="273.05" y1="296.8" x2="273.05" y2="299.8" stroke="#000" stroke-width="0.9" />
<line x1="274.68" y1="296.8" x2="274.68" y2="299.8" stroke="#000" stroke-width="0.9" />
<line x1="276.01" y1="296.8" x2="276.01" y2="299.8" stroke="#000" stroke-width="0.9" />
<line x1="277.14" y1="296.8" x2="277.14" y2="299.8" stroke="#000" stroke-width="0.9" />
<line x1="278.11" y1="296.8" x2="278.11" y2="299.8" stroke="#000" stroke-width="0.9" />
<line x1="278.97" y1="296.8" x2="278.97" y2="299.8" stroke="#000" stroke-width="0.9" />
<text x="263.9" y="304.6" font-size="5.8" text-anchor="middle" textLength="2.8" lengthAdjust="spacingAndGlyphs" fill="#222" stroke="#222" stroke-width="0.25" >6</text>
<text x="260.9" y="304.8" font-size="5.8" text-anchor="middle" fill="#222" stroke="#222" stroke-width="0.25" >,</text>
<line x1="279.74" y1="296.8" x2="279.74" y2="300.40000000000003" stroke="#000" stroke-width="0.9" />
<text x="280.7" y="304.6" font-size="5.8" text-anchor="middle" textLength="2.8" lengthAdjust="spacingAndGlyphs" fill="#222" stroke="#222" stroke-width="0.25" >7</text>
<text x="277.7" y="304.8" font-size="5.8" text-anchor="middle" fill="#222" stroke="#222" stroke-width="0.25" >,</text>
<text x="284.1" y="304.6" font-size="5.8" text-anchor="middle" textLength="7.6" lengthAdjust="spacingAndGlyphs" fill="#222" stroke="#222" stroke-width="0.25" >7.2</text>
<text x="278.70000000000005" y="304.8" font-size="5.8" text-anchor="middle" fill="#222" stroke="#222" stroke-width="0.25" >,</text>
<text x="233.2" y="311.0" font-size="5.8" text-anchor="middle" textLength="23.5" lengthAdjust="spacing" fill="#222" stroke="#222" stroke-width="0.2" >CFSE-A</text>
<line x1="191.6" y1="225.6" x2="239.9" y2="225.6" stroke="#222" stroke-width="1" stroke-dasharray="2.4 1.4"/>
<line x1="191.6" y1="222.0" x2="191.6" y2="229.6" stroke="#222" stroke-width="0.9" stroke-dasharray="1.6 0.9"/>
<line x1="239.9" y1="222.0" x2="239.9" y2="229.6" stroke="#222" stroke-width="0.9" stroke-dasharray="1.6 0.9"/>
<text x="193.2" y="218.4" font-size="6.5" text-anchor="start" textLength="9.5" lengthAdjust="spacing" fill="#111" stroke="#111" stroke-width="0.25" >M2</text>
<text x="192.79999999999998" y="224.2" font-size="6.5" text-anchor="start" textLength="20.5" lengthAdjust="spacing" fill="#111" stroke="#111" stroke-width="0.25" >48.6%</text>
<text x="338.6" y="174.5" font-size="9.4" text-anchor="start" textLength="62.8" lengthAdjust="spacing" stroke="#000" stroke-width="0.25" >CD90<tspan font-size="5.8" dy="-3">+</tspan><tspan dy="3">CFSE</tspan><tspan font-size="5.8" dy="-3">low</tspan></text>
<text x="316.3" y="187" font-size="8.2" text-anchor="start" textLength="11.9" lengthAdjust="spacingAndGlyphs" stroke="#000" stroke-width="0.35" >[%]</text>
<text x="351" y="199" font-size="8.4" text-anchor="start" textLength="34.6" lengthAdjust="spacingAndGlyphs" stroke="#000" stroke-width="0.25" >P&lt;0.0001</text>
<path d="M346.6 205.20000000000002V199.8H390.8V205.20000000000002" fill="none" stroke="#222" stroke-width="0.9"/>
<line x1="328.6" y1="199.4" x2="328.6" y2="301" stroke="#999" stroke-width="1" />
<line x1="326" y1="300.6" x2="414.7" y2="300.6" stroke="#333" stroke-width="1" />
<line x1="326.3" y1="200" x2="328.6" y2="200" stroke="#444" stroke-width="1" />
<text x="325.8" y="202.6" font-size="7.4" text-anchor="end" textLength="4.4" lengthAdjust="spacingAndGlyphs" stroke="#000" stroke-width="0.3" >60</text>
<line x1="326.3" y1="233.3" x2="328.6" y2="233.3" stroke="#444" stroke-width="1" />
<text x="325.8" y="235.9" font-size="7.4" text-anchor="end" textLength="4.4" lengthAdjust="spacingAndGlyphs" stroke="#000" stroke-width="0.3" >40</text>
<line x1="326.3" y1="266.9" x2="328.6" y2="266.9" stroke="#444" stroke-width="1" />
<text x="325.8" y="269.5" font-size="7.4" text-anchor="end" textLength="4.4" lengthAdjust="spacingAndGlyphs" stroke="#000" stroke-width="0.3" >20</text>
<line x1="326.3" y1="300.6" x2="328.6" y2="300.6" stroke="#444" stroke-width="1" />
<text x="325.8" y="303.20000000000005" font-size="7.4" text-anchor="end" textLength="2.2" lengthAdjust="spacingAndGlyphs" stroke="#000" stroke-width="0.3" >0</text>
<line x1="350.2" y1="300.6" x2="350.2" y2="304.8" stroke="#888" stroke-width="0.9" />
<line x1="393.1" y1="300.6" x2="393.1" y2="304.8" stroke="#888" stroke-width="0.9" />
<line x1="350.15" y1="235.9" x2="350.15" y2="235.0" stroke="#000" stroke-width="1.2" />
<line x1="342.9" y1="235.0" x2="357.4" y2="235.0" stroke="#000" stroke-width="1.3" />
<rect x="335.8" y="236.4" width="28.69999999999999" height="64.20000000000002" fill="#fff" stroke="#2a2a2a" stroke-width="1"/>
<line x1="335.3" y1="236.5" x2="365" y2="236.5" stroke="#000" stroke-width="1.5" />
<line x1="392.85" y1="217.9" x2="392.85" y2="216.6" stroke="#000" stroke-width="1.2" />
<line x1="385.85" y1="216.6" x2="399.85" y2="216.6" stroke="#000" stroke-width="1.3" />
<rect x="378.6" y="218.4" width="28.5" height="82.20000000000002" fill="#000" stroke="#2a2a2a" stroke-width="1"/>
<line x1="378.1" y1="218.5" x2="407.6" y2="218.5" stroke="#000" stroke-width="1.5" />
<rect x="423.7" y="179.8" width="5.6" height="6" fill="#fff" stroke="#000" stroke-width="2"/>
<rect x="423.7" y="192.4" width="5.6" height="6" fill="#000" stroke="#000" stroke-width="2"/>
<text x="442.8" y="186.2" font-size="8.4" text-anchor="start" textLength="49.7" lengthAdjust="spacing" stroke="#000" stroke-width="0.25" >B6 allogeneic</text>
<text x="442.8" y="197.8" font-size="8.4" text-anchor="start" textLength="76.8" lengthAdjust="spacing" stroke="#000" stroke-width="0.25" ><tspan font-style="italic">Siglec-G</tspan><tspan font-size="5.5" dy="-2.6" font-style="italic">-/-</tspan><tspan dy="2.6"> allogeneic</tspan></text>
<text x="-0.2" y="339.4" font-size="11.8" text-anchor="start" font-weight="bold" >D</text>
<text x="58" y="337.5" font-size="9.4" text-anchor="start" textLength="56.3" lengthAdjust="spacing" stroke="#000" stroke-width="0.4" >B6 allogeneic</text>
<text x="183.8" y="337.5" font-size="9.4" text-anchor="start" textLength="86.7" lengthAdjust="spacing" stroke="#000" stroke-width="0.35" ><tspan font-style="italic">Siglec-G</tspan><tspan font-size="6" dy="-3" font-style="italic">-/-</tspan><tspan dy="3"> allogeneic</tspan></text>
<clipPath id="cD1"><rect x="34.8" y="366.3" width="108.00000000000001" height="90.39999999999998"/></clipPath>
<path d="M35.6 456.7V456.7h0.7V456.3h0.7V456.4h0.7V456.5h0.7V456.1h0.7V456.4h0.7V455.9h0.7V456.1h0.7V456.2h0.7V456.1h0.7V455.2h0.7V455.6h0.7V454.5h0.7V454.6h0.7V454.1h0.7V455.0h0.7V453.7h0.7V454.0h0.7V453.6h0.7V453.4h0.7V452.8h0.7V452.9h0.7V453.5h0.7V451.6h0.7V449.4h0.7V447.4h0.7V443.7h0.7V439.8h0.7V438.0h0.7V438.0h0.7V431.2h0.7V430.5h0.7V431.1h0.7V428.4h0.7V424.4h0.7V423.6h0.7V419.3h0.7V412.9h0.7V409.0h0.7V408.8h0.7V410.7h0.7V405.0h0.7V402.4h0.7V401.1h0.7V397.4h0.7V399.7h0.7V397.0h0.7V402.9h0.7V397.1h0.7V406.2h0.7V405.2h0.7V403.3h0.7V413.4h0.7V413.4h0.7V410.9h0.7V417.5h0.7V423.1h0.7V423.8h0.7V427.9h0.7V429.1h0.7V430.3h0.7V431.0h0.7V434.2h0.7V434.3h0.7V435.3h0.7V432.8h0.7V438.7h0.7V440.6h0.7V439.8h0.7V441.0h0.7V445.1h0.7V439.0h0.7V439.9h0.7V440.9h0.7V434.1h0.7V434.9h0.7V435.0h0.7V428.5h0.7V427.1h0.7V425.1h0.7V417.9h0.7V417.1h0.7V415.5h0.7V414.4h0.7V409.5h0.7V406.5h0.7V401.7h0.7V400.9h0.7V402.7h0.7V398.9h0.7V394.7h0.7V393.1h0.7V401.7h0.7V399.8h0.7V400.7h0.7V394.2h0.7V405.3h0.7V408.9h0.7V417.3h0.7V418.9h0.7V422.8h0.7V429.0h0.7V429.7h0.7V439.4h0.7V443.4h0.7V445.1h0.7V449.5h0.7V452.3h0.7V453.0h0.7V453.9h0.7V454.9h0.7V455.4h0.7V455.7h0.7V456.1h0.7V456.7Z" fill="#000" clip-path="url(#cD1)"/>
<rect x="34.8" y="366.3" width="108.00000000000001" height="90.39999999999998" fill="none" stroke="#111" stroke-width="1.2"/>
<text x="35.099999999999994" y="358.0" font-size="6.7" text-anchor="start" textLength="79.5" lengthAdjust="spacing" fill="#222" stroke="#222" stroke-width="0.2" >E02 B6 CFSE-AV (Allo)</text>
<text x="35.099999999999994" y="364.3" font-size="6.7" text-anchor="start" textLength="55" lengthAdjust="spacing" fill="#222" stroke="#222" stroke-width="0.2" >Gate: (M2 in P3)</text>
<line x1="31.799999999999997" y1="366.3" x2="34.8" y2="366.3" stroke="#111" stroke-width="1" />
<text transform="translate(29.499999999999996,366.3) rotate(-90)" font-size="5.8" text-anchor="middle" textLength="7.3500000000000005" lengthAdjust="spacingAndGlyphs" font-weight="bold" fill="#222">200</text>
<line x1="31.799999999999997" y1="388.8" x2="34.8" y2="388.8" stroke="#111" stroke-width="1" />
<text transform="translate(29.499999999999996,388.8) rotate(-90)" font-size="5.8" text-anchor="middle" textLength="7.3500000000000005" lengthAdjust="spacingAndGlyphs" font-weight="bold" fill="#222">150</text>
<line x1="31.799999999999997" y1="411.4" x2="34.8" y2="411.4" stroke="#111" stroke-width="1" />
<text transform="translate(29.499999999999996,411.4) rotate(-90)" font-size="5.8" text-anchor="middle" textLength="7.3500000000000005" lengthAdjust="spacingAndGlyphs" font-weight="bold" fill="#222">100</text>
<line x1="31.799999999999997" y1="434" x2="34.8" y2="434" stroke="#111" stroke-width="1" />
<text transform="translate(29.499999999999996,434) rotate(-90)" font-size="5.8" text-anchor="middle" textLength="4.9" lengthAdjust="spacingAndGlyphs" font-weight="bold" fill="#222">50</text>
<line x1="31.799999999999997" y1="456.7" x2="34.8" y2="456.7" stroke="#111" stroke-width="1" />
<text transform="translate(29.499999999999996,456.7) rotate(-90)" font-size="5.8" text-anchor="middle" textLength="2.45" lengthAdjust="spacingAndGlyphs" font-weight="bold" fill="#222">0</text>
<text transform="translate(20.799999999999997,421.5) rotate(-90)" font-size="6.4" text-anchor="middle" textLength="14.5" lengthAdjust="spacingAndGlyphs" font-weight="bold" fill="#222">Count</text>
<line x1="34.8" y1="456.7" x2="34.8" y2="460.3" stroke="#000" stroke-width="0.9" />
<line x1="40.04" y1="456.7" x2="40.04" y2="459.7" stroke="#000" stroke-width="0.9" />
<line x1="43.11" y1="456.7" x2="43.11" y2="459.7" stroke="#000" stroke-width="0.9" />
<line x1="45.29" y1="456.7" x2="45.29" y2="459.7" stroke="#000" stroke-width="0.9" />
<line x1="46.98" y1="456.7" x2="46.98" y2="459.7" stroke="#000" stroke-width="0.9" />
<line x1="48.35" y1="456.7" x2="48.35" y2="459.7" stroke="#000" stroke-width="0.9" />
<line x1="49.52" y1="456.7" x2="49.52" y2="459.7" stroke="#000" stroke-width="0.9" />
<line x1="50.53" y1="456.7" x2="50.53" y2="459.7" stroke="#000" stroke-width="0.9" />
<line x1="51.42" y1="456.7" x2="51.42" y2="459.7" stroke="#000" stroke-width="0.9" />
<text x="35.8" y="464.5" font-size="5.8" text-anchor="middle" textLength="2.8" lengthAdjust="spacingAndGlyphs" fill="#222" stroke="#222" stroke-width="0.25" >1</text>
<text x="32.8" y="464.7" font-size="5.8" text-anchor="middle" fill="#222" stroke="#222" stroke-width="0.25" >,</text>
<line x1="52.22" y1="456.7" x2="52.22" y2="460.3" stroke="#000" stroke-width="0.9" />
<line x1="57.46" y1="456.7" x2="57.46" y2="459.7" stroke="#000" stroke-width="0.9" />
<line x1="60.53" y1="456.7" x2="60.53" y2="459.7" stroke="#000" stroke-width="0.9" />
<line x1="62.71" y1="456.7" x2="62.71" y2="459.7" stroke="#000" stroke-width="0.9" />
<line x1="64.39" y1="456.7" x2="64.39" y2="459.7" stroke="#000" stroke-width="0.9" />
<line x1="65.77" y1="456.7" x2="65.77" y2="459.7" stroke="#000" stroke-width="0.9" />
<line x1="66.94" y1="456.7" x2="66.94" y2="459.7" stroke="#000" stroke-width="0.9" />
<line x1="67.95" y1="456.7" x2="67.95" y2="459.7" stroke="#000" stroke-width="0.9" />
<line x1="68.84" y1="456.7" x2="68.84" y2="459.7" stroke="#000" stroke-width="0.9" />
<text x="53.2" y="464.5" font-size="5.8" text-anchor="middle" textLength="2.8" lengthAdjust="spacingAndGlyphs" fill="#222" stroke="#222" stroke-width="0.25" >2</text>
<text x="50.2" y="464.7" font-size="5.8" text-anchor="middle" fill="#222" stroke="#222" stroke-width="0.25" >,</text>
<line x1="69.64" y1="456.7" x2="69.64" y2="460.3" stroke="#000" stroke-width="0.9" />
<line x1="74.88" y1="456.7" x2="74.88" y2="459.7" stroke="#000" stroke-width="0.9" />
<line x1="77.95" y1="456.7" x2="77.95" y2="459.7" stroke="#000" stroke-width="0.9" />
<line x1="80.13" y1="456.7" x2="80.13" y2="459.7" stroke="#000" stroke-width="0.9" />
<line x1="81.81" y1="456.7" x2="81.81" y2="459.7" stroke="#000" stroke-width="0.9" />
<line x1="83.19" y1="456.7" x2="83.19" y2="459.7" stroke="#000" stroke-width="0.9" />
<line x1="84.36" y1="456.7" x2="84.36" y2="459.7" stroke="#000" stroke-width="0.9" />
<line x1="85.37" y1="456.7" x2="85.37" y2="459.7" stroke="#000" stroke-width="0.9" />
<line x1="86.26" y1="456.7" x2="86.26" y2="459.7" stroke="#000" stroke-width="0.9" />
<text x="70.6" y="464.5" font-size="5.8" text-anchor="middle" textLength="2.8" lengthAdjust="spacingAndGlyphs" fill="#222" stroke="#222" stroke-width="0.25" >3</text>
<text x="67.6" y="464.7" font-size="5.8" text-anchor="middle" fill="#222" stroke="#222" stroke-width="0.25" >,</text>
<line x1="87.06" y1="456.7" x2="87.06" y2="460.3" stroke="#000" stroke-width="0.9" />
<line x1="92.3" y1="456.7" x2="92.3" y2="459.7" stroke="#000" stroke-width="0.9" />
<line x1="95.37" y1="456.7" x2="95.37" y2="459.7" stroke="#000" stroke-width="0.9" />
<line x1="97.55" y1="456.7" x2="97.55" y2="459.7" stroke="#000" stroke-width="0.9" />
<line x1="99.23" y1="456.7" x2="99.23" y2="459.7" stroke="#000" stroke-width="0.9" />
<line x1="100.61" y1="456.7" x2="100.61" y2="459.7" stroke="#000" stroke-width="0.9" />
<line x1="101.78" y1="456.7" x2="101.78" y2="459.7" stroke="#000" stroke-width="0.9" />
<line x1="102.79" y1="456.7" x2="102.79" y2="459.7" stroke="#000" stroke-width="0.9" />
<line x1="103.68" y1="456.7" x2="103.68" y2="459.7" stroke="#000" stroke-width="0.9" />
<text x="88.1" y="464.5" font-size="5.8" text-anchor="middle" textLength="2.8" lengthAdjust="spacingAndGlyphs" fill="#222" stroke="#222" stroke-width="0.25" >4</text>
<text x="85.1" y="464.7" font-size="5.8" text-anchor="middle" fill="#222" stroke="#222" stroke-width="0.25" >,</text>
<line x1="104.48" y1="456.7" x2="104.48" y2="460.3" stroke="#000" stroke-width="0.9" />
<line x1="109.72" y1="456.7" x2="109.72" y2="459.7" stroke="#000" stroke-width="0.9" />
<line x1="112.79" y1="456.7" x2="112.79" y2="459.7" stroke="#000" stroke-width="0.9" />
<line x1="114.96" y1="456.7" x2="114.96" y2="459.7" stroke="#000" stroke-width="0.9" />
<line x1="116.65" y1="456.7" x2="116.65" y2="459.7" stroke="#000" stroke-width="0.9" />
<line x1="118.03" y1="456.7" x2="118.03" y2="459.7" stroke="#000" stroke-width="0.9" />
<line x1="119.2" y1="456.7" x2="119.2" y2="459.7" stroke="#000" stroke-width="0.9" />
<line x1="120.21" y1="456.7" x2="120.21" y2="459.7" stroke="#000" stroke-width="0.9" />
<line x1="121.1" y1="456.7" x2="121.1" y2="459.7" stroke="#000" stroke-width="0.9" />
<text x="105.5" y="464.5" font-size="5.8" text-anchor="middle" textLength="2.8" lengthAdjust="spacingAndGlyphs" fill="#222" stroke="#222" stroke-width="0.25" >5</text>
<text x="102.5" y="464.7" font-size="5.8" text-anchor="middle" fill="#222" stroke="#222" stroke-width="0.25" >,</text>
<line x1="121.9" y1="456.7" x2="121.9" y2="460.3" stroke="#000" stroke-width="0.9" />
<line x1="127.14" y1="456.7" x2="127.14" y2="459.7" stroke="#000" stroke-width="0.9" />
<line x1="130.21" y1="456.7" x2="130.21" y2="459.7" stroke="#000" stroke-width="0.9" />
<line x1="132.38" y1="456.7" x2="132.38" y2="459.7" stroke="#000" stroke-width="0.9" />
<line x1="134.07" y1="456.7" x2="134.07" y2="459.7" stroke="#000" stroke-width="0.9" />
<line x1="135.45" y1="456.7" x2="135.45" y2="459.7" stroke="#000" stroke-width="0.9" />
<line x1="136.62" y1="456.7" x2="136.62" y2="459.7" stroke="#000" stroke-width="0.9" />
<line x1="137.63" y1="456.7" x2="137.63" y2="459.7" stroke="#000" stroke-width="0.9" />
<line x1="138.52" y1="456.7" x2="138.52" y2="459.7" stroke="#000" stroke-width="0.9" />
<text x="122.9" y="464.5" font-size="5.8" text-anchor="middle" textLength="2.8" lengthAdjust="spacingAndGlyphs" fill="#222" stroke="#222" stroke-width="0.25" >6</text>
<text x="119.9" y="464.7" font-size="5.8" text-anchor="middle" fill="#222" stroke="#222" stroke-width="0.25" >,</text>
<line x1="139.32" y1="456.7" x2="139.32" y2="460.3" stroke="#000" stroke-width="0.9" />
<text x="140.3" y="464.5" font-size="5.8" text-anchor="middle" textLength="2.8" lengthAdjust="spacingAndGlyphs" fill="#222" stroke="#222" stroke-width="0.25" >7</text>
<text x="137.3" y="464.7" font-size="5.8" text-anchor="middle" fill="#222" stroke="#222" stroke-width="0.25" >,</text>
<text x="143.8" y="464.5" font-size="5.8" text-anchor="middle" textLength="7.6" lengthAdjust="spacingAndGlyphs" fill="#222" stroke="#222" stroke-width="0.25" >7.2</text>
<text x="138.4" y="464.7" font-size="5.8" text-anchor="middle" fill="#222" stroke="#222" stroke-width="0.25" >,</text>
<text x="89.70000000000002" y="472.3" font-size="5.8" text-anchor="middle" textLength="38" lengthAdjust="spacing" fill="#222" stroke="#222" stroke-width="0.2" >Annexin V-A</text>
<line x1="83.6" y1="390" x2="136.1" y2="390" stroke="#222" stroke-width="1" stroke-dasharray="2.4 1.4"/>
<line x1="83.6" y1="386.4" x2="83.6" y2="394" stroke="#222" stroke-width="0.9" stroke-dasharray="1.6 0.9"/>
<line x1="136.1" y1="386.4" x2="136.1" y2="394" stroke="#222" stroke-width="0.9" stroke-dasharray="1.6 0.9"/>
<text x="85.19999999999999" y="382.8" font-size="6.5" text-anchor="start" textLength="9.5" lengthAdjust="spacing" fill="#111" stroke="#111" stroke-width="0.25" >M3</text>
<text x="84.8" y="389.4" font-size="6.5" text-anchor="start" textLength="22" lengthAdjust="spacing" fill="#111" stroke="#111" stroke-width="0.25" >45.3%</text>
<clipPath id="cD2"><rect x="177.7" y="366.3" width="108.60000000000002" height="90.39999999999998"/></clipPath>
<path d="M178.2 456.7V456.7h0.7V456.7h0.7V455.9h0.7V455.7h0.7V456.5h0.7V456.1h0.7V456.3h0.7V455.8h0.7V455.0h0.7V455.3h0.7V454.2h0.7V454.6h0.7V454.7h0.7V454.8h0.7V454.1h0.7V454.2h0.7V454.3h0.7V454.1h0.7V454.0h0.7V453.7h0.7V452.4h0.7V452.0h0.7V450.5h0.7V448.8h0.7V447.8h0.7V447.3h0.7V446.1h0.7V445.0h0.7V442.9h0.7V441.3h0.7V439.1h0.7V435.6h0.7V436.2h0.7V435.2h0.7V432.1h0.7V428.8h0.7V428.0h0.7V422.8h0.7V418.5h0.7V421.4h0.7V417.4h0.7V420.1h0.7V413.6h0.7V408.2h0.7V414.0h0.7V422.4h0.7V418.7h0.7V417.8h0.7V420.8h0.7V425.2h0.7V426.2h0.7V426.4h0.7V430.1h0.7V429.4h0.7V428.8h0.7V430.9h0.7V433.1h0.7V432.0h0.7V432.4h0.7V428.7h0.7V430.7h0.7V433.0h0.7V432.7h0.7V436.3h0.7V437.0h0.7V438.8h0.7V438.1h0.7V442.6h0.7V441.6h0.7V440.6h0.7V441.8h0.7V443.8h0.7V438.9h0.7V439.4h0.7V438.4h0.7V435.8h0.7V432.6h0.7V432.9h0.7V431.4h0.7V431.1h0.7V428.7h0.7V425.2h0.7V424.8h0.7V421.4h0.7V417.8h0.7V414.7h0.7V411.1h0.7V410.9h0.7V403.6h0.7V402.3h0.7V401.6h0.7V395.0h0.7V395.4h0.7V393.7h0.7V400.0h0.7V406.0h0.7V408.7h0.7V409.8h0.7V412.6h0.7V412.7h0.7V424.3h0.7V424.2h0.7V428.7h0.7V428.2h0.7V433.0h0.7V434.1h0.7V441.3h0.7V443.2h0.7V442.0h0.7V445.8h0.7V448.2h0.7V448.3h0.7V450.0h0.7V451.1h0.7V452.0h0.7V452.3h0.7V453.6h0.7V454.4h0.7V455.1h0.7V455.8h0.7V456.3h0.7V456.3h0.7V455.7h0.7V456.1h0.7V456.2h0.7V456.7Z" fill="#000" clip-path="url(#cD2)"/>
<rect x="177.7" y="366.3" width="108.60000000000002" height="90.39999999999998" fill="none" stroke="#111" stroke-width="1.2"/>
<text x="178.0" y="358.0" font-size="6.7" text-anchor="start" textLength="84" lengthAdjust="spacing" fill="#222" stroke="#222" stroke-width="0.2" >G03 Sig CFSE•AV (Allo)</text>
<text x="178.0" y="364.3" font-size="6.7" text-anchor="start" textLength="55" lengthAdjust="spacing" fill="#222" stroke="#222" stroke-width="0.2" >Gate: (M2 in P3)</text>
<line x1="174.7" y1="366.3" x2="177.7" y2="366.3" stroke="#111" stroke-width="1" />
<text transform="translate(172.39999999999998,366.3) rotate(-90)" font-size="5.8" text-anchor="middle" textLength="7.3500000000000005" lengthAdjust="spacingAndGlyphs" font-weight="bold" fill="#222">300</text>
<line x1="174.7" y1="396.5" x2="177.7" y2="396.5" stroke="#111" stroke-width="1" />
<text transform="translate(172.39999999999998,396.5) rotate(-90)" font-size="5.8" text-anchor="middle" textLength="7.3500000000000005" lengthAdjust="spacingAndGlyphs" font-weight="bold" fill="#222">200</text>
<line x1="174.7" y1="426.6" x2="177.7" y2="426.6" stroke="#111" stroke-width="1" />
<text transform="translate(172.39999999999998,426.6) rotate(-90)" font-size="5.8" text-anchor="middle" textLength="7.3500000000000005" lengthAdjust="spacingAndGlyphs" font-weight="bold" fill="#222">100</text>
<line x1="174.7" y1="456.7" x2="177.7" y2="456.7" stroke="#111" stroke-width="1" />
<text transform="translate(172.39999999999998,456.7) rotate(-90)" font-size="5.8" text-anchor="middle" textLength="2.45" lengthAdjust="spacingAndGlyphs" font-weight="bold" fill="#222">0</text>
<text transform="translate(163.7,421.5) rotate(-90)" font-size="6.4" text-anchor="middle" textLength="14.5" lengthAdjust="spacingAndGlyphs" font-weight="bold" fill="#222">Count</text>
<line x1="177.7" y1="456.7" x2="177.7" y2="460.3" stroke="#000" stroke-width="0.9" />
<line x1="182.97" y1="456.7" x2="182.97" y2="459.7" stroke="#000" stroke-width="0.9" />
<line x1="186.06" y1="456.7" x2="186.06" y2="459.7" stroke="#000" stroke-width="0.9" />
<line x1="188.25" y1="456.7" x2="188.25" y2="459.7" stroke="#000" stroke-width="0.9" />
<line x1="189.94" y1="456.7" x2="189.94" y2="459.7" stroke="#000" stroke-width="0.9" />
<line x1="191.33" y1="456.7" x2="191.33" y2="459.7" stroke="#000" stroke-width="0.9" />
<line x1="192.5" y1="456.7" x2="192.5" y2="459.7" stroke="#000" stroke-width="0.9" />
<line x1="193.52" y1="456.7" x2="193.52" y2="459.7" stroke="#000" stroke-width="0.9" />
<line x1="194.41" y1="456.7" x2="194.41" y2="459.7" stroke="#000" stroke-width="0.9" />
<text x="178.7" y="464.5" font-size="5.8" text-anchor="middle" textLength="2.8" lengthAdjust="spacingAndGlyphs" fill="#222" stroke="#222" stroke-width="0.25" >1</text>
<text x="175.7" y="464.7" font-size="5.8" text-anchor="middle" fill="#222" stroke="#222" stroke-width="0.25" >,</text>
<line x1="195.22" y1="456.7" x2="195.22" y2="460.3" stroke="#000" stroke-width="0.9" />
<line x1="200.49" y1="456.7" x2="200.49" y2="459.7" stroke="#000" stroke-width="0.9" />
<line x1="203.57" y1="456.7" x2="203.57" y2="459.7" stroke="#000" stroke-width="0.9" />
<line x1="205.76" y1="456.7" x2="205.76" y2="459.7" stroke="#000" stroke-width="0.9" />
<line x1="207.46" y1="456.7" x2="207.46" y2="459.7" stroke="#000" stroke-width="0.9" />
<line x1="208.85" y1="456.7" x2="208.85" y2="459.7" stroke="#000" stroke-width="0.9" />
<line x1="210.02" y1="456.7" x2="210.02" y2="459.7" stroke="#000" stroke-width="0.9" />
<line x1="211.03" y1="456.7" x2="211.03" y2="459.7" stroke="#000" stroke-width="0.9" />
<line x1="211.93" y1="456.7" x2="211.93" y2="459.7" stroke="#000" stroke-width="0.9" />
<text x="196.2" y="464.5" font-size="5.8" text-anchor="middle" textLength="2.8" lengthAdjust="spacingAndGlyphs" fill="#222" stroke="#222" stroke-width="0.25" >2</text>
<text x="193.2" y="464.7" font-size="5.8" text-anchor="middle" fill="#222" stroke="#222" stroke-width="0.25" >,</text>
<line x1="212.73" y1="456.7" x2="212.73" y2="460.3" stroke="#000" stroke-width="0.9" />
<line x1="218.01" y1="456.7" x2="218.01" y2="459.7" stroke="#000" stroke-width="0.9" />
<line x1="221.09" y1="456.7" x2="221.09" y2="459.7" stroke="#000" stroke-width="0.9" />
<line x1="223.28" y1="456.7" x2="223.28" y2="459.7" stroke="#000" stroke-width="0.9" />
<line x1="224.98" y1="456.7" x2="224.98" y2="459.7" stroke="#000" stroke-width="0.9" />
<line x1="226.36" y1="456.7" x2="226.36" y2="459.7" stroke="#000" stroke-width="0.9" />
<line x1="227.54" y1="456.7" x2="227.54" y2="459.7" stroke="#000" stroke-width="0.9" />
<line x1="228.55" y1="456.7" x2="228.55" y2="459.7" stroke="#000" stroke-width="0.9" />
<line x1="229.45" y1="456.7" x2="229.45" y2="459.7" stroke="#000" stroke-width="0.9" />
<text x="213.7" y="464.5" font-size="5.8" text-anchor="middle" textLength="2.8" lengthAdjust="spacingAndGlyphs" fill="#222" stroke="#222" stroke-width="0.25" >3</text>
<text x="210.7" y="464.7" font-size="5.8" text-anchor="middle" fill="#222" stroke="#222" stroke-width="0.25" >,</text>
<line x1="230.25" y1="456.7" x2="230.25" y2="460.3" stroke="#000" stroke-width="0.9" />
<line x1="235.52" y1="456.7" x2="235.52" y2="459.7" stroke="#000" stroke-width="0.9" />
<line x1="238.61" y1="456.7" x2="238.61" y2="459.7" stroke="#000" stroke-width="0.9" />
<line x1="240.79" y1="456.7" x2="240.79" y2="459.7" stroke="#000" stroke-width="0.9" />
<line x1="242.49" y1="456.7" x2="242.49" y2="459.7" stroke="#000" stroke-width="0.9" />
<line x1="243.88" y1="456.7" x2="243.88" y2="459.7" stroke="#000" stroke-width="0.9" />
<line x1="245.05" y1="456.7" x2="245.05" y2="459.7" stroke="#000" stroke-width="0.9" />
<line x1="246.07" y1="456.7" x2="246.07" y2="459.7" stroke="#000" stroke-width="0.9" />
<line x1="246.96" y1="456.7" x2="246.96" y2="459.7" stroke="#000" stroke-width="0.9" />
<text x="231.2" y="464.5" font-size="5.8" text-anchor="middle" textLength="2.8" lengthAdjust="spacingAndGlyphs" fill="#222" stroke="#222" stroke-width="0.25" >4</text>
<text x="228.2" y="464.7" font-size="5.8" text-anchor="middle" fill="#222" stroke="#222" stroke-width="0.25" >,</text>
<line x1="247.76" y1="456.7" x2="247.76" y2="460.3" stroke="#000" stroke-width="0.9" />
<line x1="253.04" y1="456.7" x2="253.04" y2="459.7" stroke="#000" stroke-width="0.9" />
<line x1="256.12" y1="456.7" x2="256.12" y2="459.7" stroke="#000" stroke-width="0.9" />
<line x1="258.31" y1="456.7" x2="258.31" y2="459.7" stroke="#000" stroke-width="0.9" />
<line x1="260.01" y1="456.7" x2="260.01" y2="459.7" stroke="#000" stroke-width="0.9" />
<line x1="261.39" y1="456.7" x2="261.39" y2="459.7" stroke="#000" stroke-width="0.9" />
<line x1="262.57" y1="456.7" x2="262.57" y2="459.7" stroke="#000" stroke-width="0.9" />
<line x1="263.58" y1="456.7" x2="263.58" y2="459.7" stroke="#000" stroke-width="0.9" />
<line x1="264.48" y1="456.7" x2="264.48" y2="459.7" stroke="#000" stroke-width="0.9" />
<text x="248.8" y="464.5" font-size="5.8" text-anchor="middle" textLength="2.8" lengthAdjust="spacingAndGlyphs" fill="#222" stroke="#222" stroke-width="0.25" >5</text>
<text x="245.8" y="464.7" font-size="5.8" text-anchor="middle" fill="#222" stroke="#222" stroke-width="0.25" >,</text>
<line x1="265.28" y1="456.7" x2="265.28" y2="460.3" stroke="#000" stroke-width="0.9" />
<line x1="270.55" y1="456.7" x2="270.55" y2="459.7" stroke="#000" stroke-width="0.9" />
<line x1="273.64" y1="456.7" x2="273.64" y2="459.7" stroke="#000" stroke-width="0.9" />
<line x1="275.83" y1="456.7" x2="275.83" y2="459.7" stroke="#000" stroke-width="0.9" />
<line x1="277.52" y1="456.7" x2="277.52" y2="459.7" stroke="#000" stroke-width="0.9" />
<line x1="278.91" y1="456.7" x2="278.91" y2="459.7" stroke="#000" stroke-width="0.9" />
<line x1="280.08" y1="456.7" x2="280.08" y2="459.7" stroke="#000" stroke-width="0.9" />
<line x1="281.1" y1="456.7" x2="281.1" y2="459.7" stroke="#000" stroke-width="0.9" />
<line x1="282.0" y1="456.7" x2="282.0" y2="459.7" stroke="#000" stroke-width="0.9" />
<text x="266.3" y="464.5" font-size="5.8" text-anchor="middle" textLength="2.8" lengthAdjust="spacingAndGlyphs" fill="#222" stroke="#222" stroke-width="0.25" >6</text>
<text x="263.3" y="464.7" font-size="5.8" text-anchor="middle" fill="#222" stroke="#222" stroke-width="0.25" >,</text>
<line x1="282.8" y1="456.7" x2="282.8" y2="460.3" stroke="#000" stroke-width="0.9" />
<text x="283.8" y="464.5" font-size="5.8" text-anchor="middle" textLength="2.8" lengthAdjust="spacingAndGlyphs" fill="#222" stroke="#222" stroke-width="0.25" >7</text>
<text x="280.8" y="464.7" font-size="5.8" text-anchor="middle" fill="#222" stroke="#222" stroke-width="0.25" >,</text>
<text x="287.3" y="464.5" font-size="5.8" text-anchor="middle" textLength="7.6" lengthAdjust="spacingAndGlyphs" fill="#222" stroke="#222" stroke-width="0.25" >7.2</text>
<text x="281.90000000000003" y="464.7" font-size="5.8" text-anchor="middle" fill="#222" stroke="#222" stroke-width="0.25" >,</text>
<text x="232.9" y="472.3" font-size="5.8" text-anchor="middle" textLength="38" lengthAdjust="spacing" fill="#222" stroke="#222" stroke-width="0.2" >Annexin V-A</text>
<line x1="226.5" y1="390.7" x2="279.2" y2="390.7" stroke="#222" stroke-width="1" stroke-dasharray="2.4 1.4"/>
<line x1="226.5" y1="387.09999999999997" x2="226.5" y2="394.7" stroke="#222" stroke-width="0.9" stroke-dasharray="1.6 0.9"/>
<line x1="279.2" y1="387.09999999999997" x2="279.2" y2="394.7" stroke="#222" stroke-width="0.9" stroke-dasharray="1.6 0.9"/>
<text x="228.1" y="383.5" font-size="6.5" text-anchor="start" textLength="9.5" lengthAdjust="spacing" fill="#111" stroke="#111" stroke-width="0.25" >M3</text>
<text x="227.7" y="390.09999999999997" font-size="6.5" text-anchor="start" textLength="22" lengthAdjust="spacing" fill="#111" stroke="#111" stroke-width="0.25" >50.4%</text>
<text x="322.7" y="336" font-size="8.4" text-anchor="start" textLength="90" lengthAdjust="spacing" stroke="#000" stroke-width="0.25" >CD90<tspan font-size="5" dy="-2.8">+</tspan><tspan dy="2.8">CFSE</tspan><tspan font-size="5" dy="-2.8">low</tspan><tspan dy="2.8">Annexin</tspan><tspan font-size="5" dy="-2.8">+</tspan></text>
<text x="310.6" y="348.5" font-size="8" text-anchor="start" textLength="11" lengthAdjust="spacingAndGlyphs" stroke="#000" stroke-width="0.35" >[%]</text>
<line x1="320.2" y1="358.3" x2="320.2" y2="463" stroke="#888" stroke-width="1" />
<line x1="317.5" y1="462.5" x2="406.8" y2="462.5" stroke="#333" stroke-width="1" />
<line x1="318" y1="358.8" x2="320.2" y2="358.8" stroke="#444" stroke-width="1" />
<text x="317.4" y="361.40000000000003" font-size="7.4" text-anchor="end" textLength="4.4" lengthAdjust="spacingAndGlyphs" stroke="#000" stroke-width="0.3" >60</text>
<line x1="318" y1="393.3" x2="320.2" y2="393.3" stroke="#444" stroke-width="1" />
<text x="317.4" y="395.90000000000003" font-size="7.4" text-anchor="end" textLength="4.4" lengthAdjust="spacingAndGlyphs" stroke="#000" stroke-width="0.3" >40</text>
<line x1="318" y1="427.9" x2="320.2" y2="427.9" stroke="#444" stroke-width="1" />
<text x="317.4" y="430.5" font-size="7.4" text-anchor="end" textLength="4.4" lengthAdjust="spacingAndGlyphs" stroke="#000" stroke-width="0.3" >20</text>
<line x1="318" y1="462.5" x2="320.2" y2="462.5" stroke="#444" stroke-width="1" />
<text x="317.4" y="465.1" font-size="7.4" text-anchor="end" textLength="2.2" lengthAdjust="spacingAndGlyphs" stroke="#000" stroke-width="0.3" >0</text>
<line x1="341.3" y1="462.5" x2="341.3" y2="467" stroke="#888" stroke-width="0.9" />
<line x1="385" y1="462.5" x2="385" y2="467" stroke="#888" stroke-width="0.9" />
<line x1="342.0" y1="383.2" x2="342.0" y2="380.6" stroke="#000" stroke-width="1.2" />
<line x1="335.25" y1="380.6" x2="348.75" y2="380.6" stroke="#000" stroke-width="1.3" />
<rect x="327.5" y="383.7" width="29" height="78.80000000000001" fill="#fff" stroke="#2a2a2a" stroke-width="1"/>
<line x1="327" y1="383.8" x2="357" y2="383.8" stroke="#000" stroke-width="1.5" />
<line x1="384.79999999999995" y1="387.8" x2="384.79999999999995" y2="383.2" stroke="#000" stroke-width="1.2" />
<line x1="377.54999999999995" y1="383.2" x2="392.04999999999995" y2="383.2" stroke="#000" stroke-width="1.3" />
<rect x="370.7" y="388.3" width="28.19999999999999" height="74.19999999999999" fill="#000" stroke="#2a2a2a" stroke-width="1"/>
<line x1="370.2" y1="388.40000000000003" x2="399.4" y2="388.40000000000003" stroke="#000" stroke-width="1.5" />
<text x="411.2" y="455.5" font-size="8.3" text-anchor="start" font-weight="bold" textLength="15.7" lengthAdjust="spacingAndGlyphs" stroke="#000" stroke-width="0.1" >N.S.</text>
<rect x="423.7" y="335.4" width="5.6" height="6" fill="#fff" stroke="#000" stroke-width="2"/>
<rect x="423.7" y="348.1" width="5.6" height="6" fill="#000" stroke="#000" stroke-width="2"/>
<text x="442.8" y="341.6" font-size="8.4" text-anchor="start" textLength="49.5" lengthAdjust="spacing" stroke="#000" stroke-width="0.25" >B6 allogeneic</text>
<text x="442.8" y="353.2" font-size="8.4" text-anchor="start" textLength="76.8" lengthAdjust="spacing" stroke="#000" stroke-width="0.25" ><tspan font-style="italic">Siglec-G</tspan><tspan font-size="5.5" dy="-2.6" font-style="italic">-/-</tspan><tspan dy="2.6"> allogeneic</tspan></text>
</svg>
</body></html>
